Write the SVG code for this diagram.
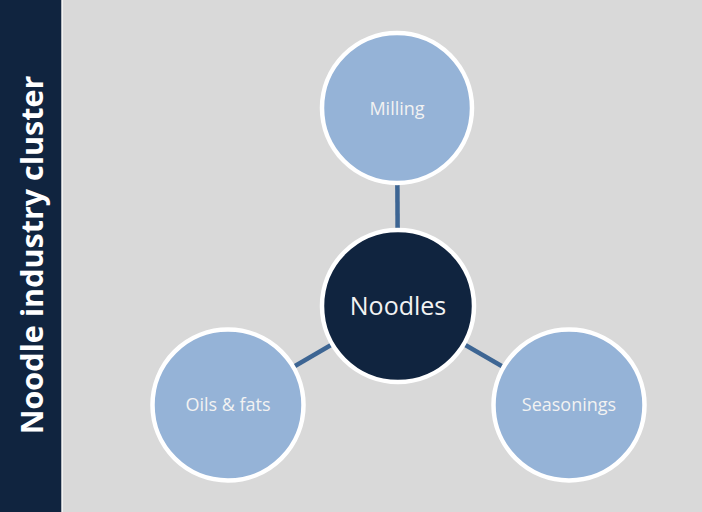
<svg xmlns="http://www.w3.org/2000/svg" width="702" height="512" viewBox="0 0 702 512">
<style>
.sat{fill:#95B3D7;stroke:#FFFFFF;stroke-width:4.5}
.hub{fill:#10243F;stroke:#FFFFFF;stroke-width:4.5}
.lbl{font-family:"Open Sans","Liberation Sans",sans-serif;font-size:18px;fill:#F2F2F2;text-anchor:middle;dominant-baseline:central}
.big{font-size:25px}
.conn line{stroke:#3D6593;stroke-width:4.5}
</style>
<rect x="0" y="0" width="702" height="512" fill="#D9D9D9"/>
<rect x="0" y="0" width="61.5" height="512" fill="#10243F"/>
<rect x="61.5" y="0" width="1.5" height="512" fill="#F2F2F2"/>
<text transform="translate(42.5,255) rotate(-90)" font-family="'Open Sans','Liberation Sans',sans-serif" font-weight="bold" font-size="30.5" fill="#FFFFFF" text-anchor="middle">Noodle industry cluster</text>
<g class="conn" id="connectors">
<line x1="398" y1="306" x2="397" y2="108"/>
<line x1="398" y1="306" x2="228" y2="405"/>
<line x1="398" y1="306" x2="569" y2="405"/>
</g>
<g id="milling"><circle class="sat" cx="397" cy="108" r="75"/><text class="lbl" x="397" y="108">Milling</text></g>
<g id="oils"><circle class="sat" cx="228" cy="405" r="75.5"/><text class="lbl" x="228" y="404">Oils &amp; fats</text></g>
<g id="seasonings"><circle class="sat" cx="569" cy="405" r="75.5"/><text class="lbl" x="569" y="404">Seasonings</text></g>
<g id="noodles"><circle class="hub" cx="398" cy="306" r="76"/><text class="lbl big" x="398" y="305">Noodles</text></g>
</svg>
